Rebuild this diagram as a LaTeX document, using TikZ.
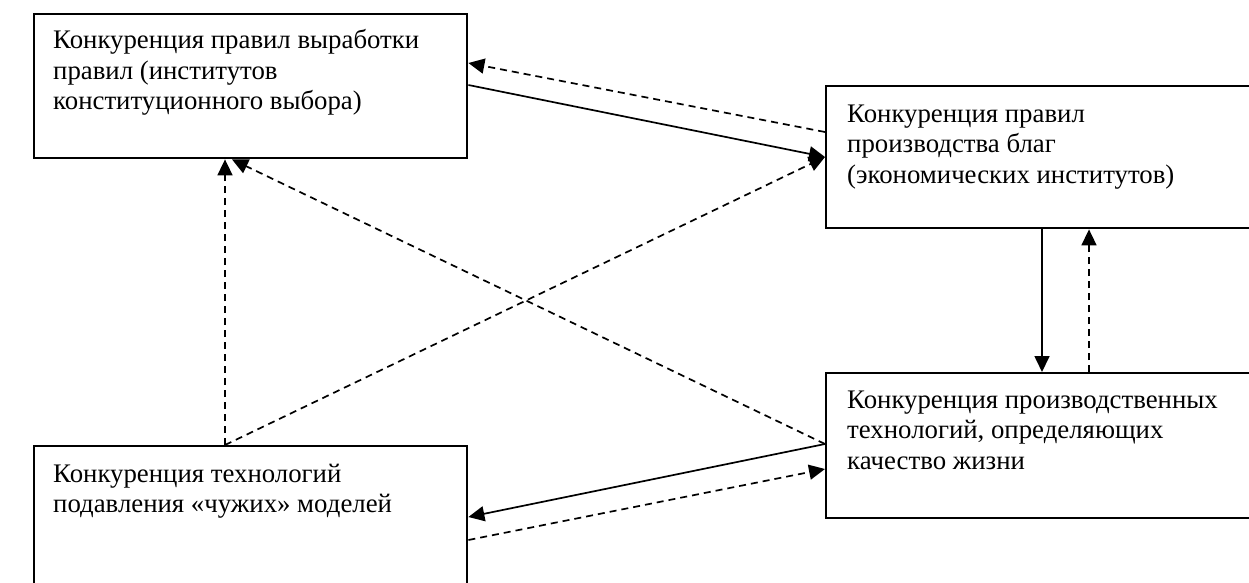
\documentclass[tikz,border=0pt]{standalone}
\usepackage{fontspec}
\setmainfont{Liberation Serif}
\usetikzlibrary{calc,arrows.meta}
\tikzset{
  box/.style={draw, line width=2.4pt, rectangle, inner sep=0pt, anchor=north west},
  lbl/.style={anchor=base west, inner sep=0pt},
  conn/.style={line width=1.7pt, -{Triangle[length=16pt,width=15pt]}},
  dconn/.style={conn, dash pattern=on 7pt off 5pt},
}
\newcommand{\boxtext}[2]{\parbox[t]{#1}{\fontsize{26.8pt}{30.5pt}\selectfont\raggedright #2}}
\begin{document}
\begin{tikzpicture}[x=1pt,y=-1pt]
\useasboundingbox (0,0) rectangle (1249,583);
\clip (0,0) rectangle (1249,583);
\fill[white] (0,0) rectangle (1249,583);
% boxes
\node[box, minimum width=433pt, minimum height=144pt] (A) at (33,13) {};
\node[box, minimum width=500pt, minimum height=142pt] (B) at (825,85) {};
\node[box, minimum width=433pt, minimum height=180pt] (C) at (33,445) {};
\node[box, minimum width=500pt, minimum height=145pt] (D) at (825,372) {};
% texts
\node[lbl] (tA) at (53,49) {\boxtext{400pt}{Конкуренция правил выработки\\правил (институтов\\конституционного выбора)}};
\node[lbl] (tB) at (847,122) {\boxtext{400pt}{Конкуренция правил\\производства благ\\(экономических институтов)}};
\node[lbl] (tC) at (53,482) {\boxtext{400pt}{Конкуренция технологий\\подавления «чужих» моделей}};
\node[lbl] (tD) at (847,408) {\boxtext{400pt}{Конкуренция производственных\\технологий, определяющих\\качество жизни}};
% connectors
\draw[conn]  ($(A.north east)+(0,72)$) -- ($(B.north west)+(0,72)$);
\draw[dconn] ($(B.north west)+(0,47)$) -- ($(A.north east)+(0,50)$);
\draw[dconn] ($(C.north west)+(192,0)$) -- ($(B.north west)+(0,72)$);
\draw[dconn] ($(C.north west)+(192,0)$) -- ($(A.south west)+(192,0)$);
\draw[dconn] ($(D.north west)+(0,72)$) -- ($(A.south west)+(199,0)$);
\draw[conn]  ($(B.south west)+(217,0)$) -- ($(D.north west)+(217,0)$);
\draw[dconn] ($(D.north west)+(264,0)$) -- ($(B.south west)+(264,0)$);
\draw[conn]  ($(D.north west)+(0,72)$) -- ($(C.north east)+(0,72)$);
\draw[dconn] ($(C.north east)+(0,95)$) -- ($(D.north west)+(0,97)$);
\end{tikzpicture}
\end{document}
